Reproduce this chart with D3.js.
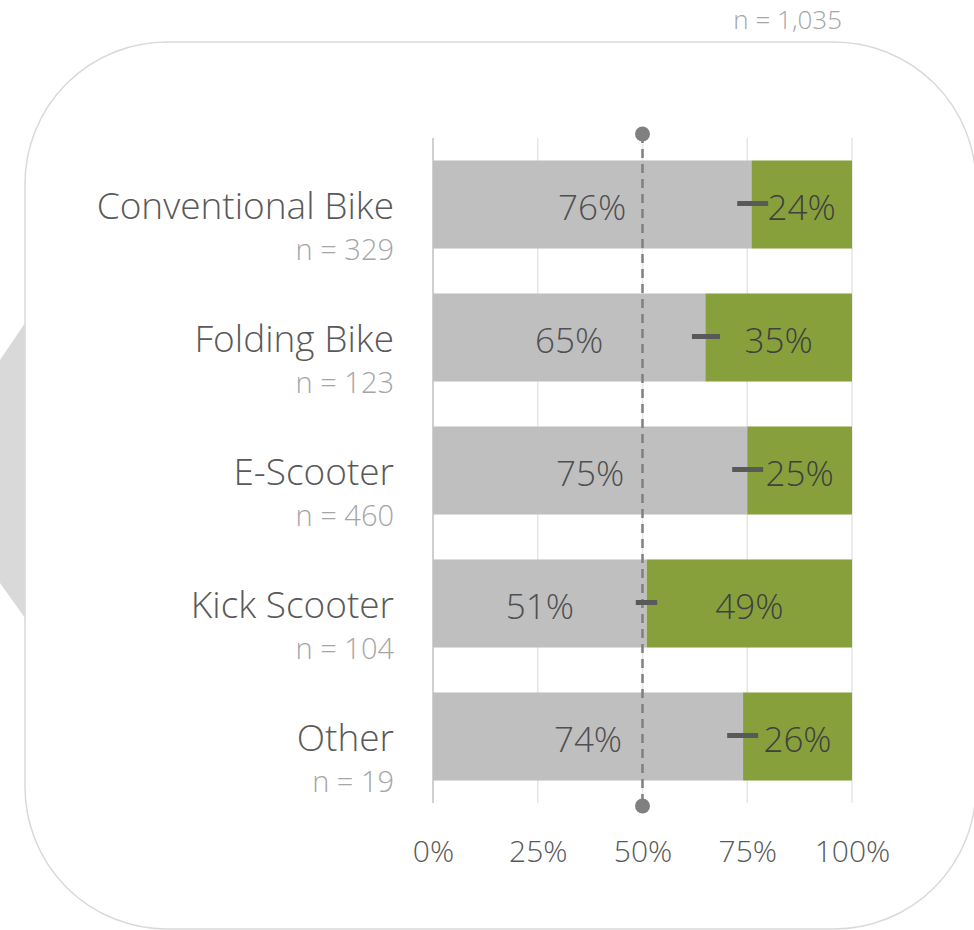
<!DOCTYPE html>
<html>
<head>
<meta charset="utf-8">
<script src="https://cdn.jsdelivr.net/npm/d3@7"></script>
<style>
  html, body { margin: 0; padding: 0; background: #ffffff; }
  svg { display: block; font-family: "Segoe UI", "Open Sans", "Noto Sans", sans-serif; }
</style>
</head>
<body>
<svg id="chart" width="974" height="930"></svg>
<script>
// Vehicle types and their sample sizes
const categories = ["Conventional Bike", "Folding Bike", "E-Scooter", "Kick Scooter", "Other"];
const sampleSizes = [329, 123, 460, 104, 19];
const totalN = "1,035";

// Share of respondents per answer (%)
const shareNo = [76, 65, 75, 51, 74];
const shareYes = [24, 35, 25, 49, 26];

// Interval around the split point (%)
const ciLow = [72.6, 61.8, 71.4, 48.4, 70.2];
const ciHigh = [80.0, 68.5, 78.8, 53.5, 77.6];

// Axis ticks
const tickValues = [0, 25, 50, 75, 100];
const referenceValue = 50;

const colNo = "#bfbfbf";
const colYes = "#87a03c";
const textDark = "#595959";
const textLight = "#a6a6a6";

const svg = d3.select("#chart");

// Background chevron, partly hidden behind the panel
svg.append("polygon")
  .attr("points", [[120, 323], [25, 323], [0, 360], [0, 583], [25, 618], [120, 618]].map(p => p.join(",")).join(" "))
  .attr("fill", "#d9d9d9");

// Rounded panel
svg.append("rect")
  .attr("x", 25).attr("y", 42)
  .attr("width", 951).attr("height", 887)
  .attr("rx", 142).attr("ry", 142)
  .attr("fill", "#ffffff")
  .attr("stroke", "#d9d9d9")
  .attr("stroke-width", 1.5);

// Overall sample size
svg.append("text")
  .attr("x", 842).attr("y", 29)
  .attr("text-anchor", "end")
  .attr("fill", textLight)
  .attr("font-size", 26)
  .attr("font-weight", 300)
  .text("n = " + totalN);

const x = d3.scaleLinear().domain([0, 100]).range([433, 852]);
const y = d3.scaleBand().domain(categories).range([138, 803])
  .paddingInner(0.338).paddingOuter(0.169);

const rows = categories.map((c, i) => ({
  cat: c, n: sampleSizes[i], no: shareNo[i], yes: shareYes[i], lo: ciLow[i], hi: ciHigh[i]
}));

// Vertical gridlines
svg.append("g")
  .selectAll("line")
  .data(tickValues.slice(1))
  .join("line")
  .attr("x1", d => x(d)).attr("x2", d => x(d))
  .attr("y1", 138).attr("y2", 803)
  .attr("stroke", "#e6e6e6")
  .attr("stroke-width", 1.5);

// Baseline
svg.append("line")
  .attr("x1", x(0)).attr("x2", x(0))
  .attr("y1", 138).attr("y2", 803)
  .attr("stroke", "#d0d0d0")
  .attr("stroke-width", 2);

// Tick labels via d3 axis
const axis = d3.axisBottom(x).tickValues(tickValues).tickFormat(d => d + "%").tickSize(0).tickPadding(0);
const axisG = svg.append("g").attr("transform", "translate(0,840)").call(axis)
  .attr("font-family", null).attr("font-size", null);
axisG.select(".domain").remove();
axisG.selectAll("text")
  .attr("fill", textDark)
  .attr("font-size", 30)
  .attr("font-weight", 300)
  .attr("dy", "0.72em");

// Stacked bars
const barG = svg.append("g");
barG.selectAll("rect.no")
  .data(rows).join("rect").attr("class", "no")
  .attr("x", x(0))
  .attr("y", d => y(d.cat))
  .attr("width", d => x(d.no) - x(0))
  .attr("height", y.bandwidth())
  .attr("fill", colNo);
barG.selectAll("rect.yes")
  .data(rows).join("rect").attr("class", "yes")
  .attr("x", d => x(d.no))
  .attr("y", d => y(d.cat))
  .attr("width", d => x(d.no + d.yes) - x(d.no))
  .attr("height", y.bandwidth())
  .attr("fill", colYes);

// Reference line at 50%
svg.append("line")
  .attr("x1", x(referenceValue)).attr("x2", x(referenceValue))
  .attr("y1", 134).attr("y2", 806)
  .attr("stroke", "#808080")
  .attr("stroke-width", 2.5)
  .attr("stroke-dasharray", "9,6");
svg.selectAll("circle.ref")
  .data([134, 806]).join("circle").attr("class", "ref")
  .attr("cx", x(referenceValue)).attr("cy", d => d)
  .attr("r", 7.5)
  .attr("fill", "#808080");

// Value labels
const cy = d => y(d.cat) + y.bandwidth() / 2;
barG.selectAll("text.no")
  .data(rows).join("text").attr("class", "no")
  .attr("x", d => (x(0) + x(d.no)) / 2)
  .attr("y", d => cy(d) + 15)
  .attr("text-anchor", "middle")
  .attr("fill", "#505050")
  .attr("font-size", 35)
  .attr("font-weight", 300)
  .text(d => d.no + "%");
barG.selectAll("text.yes")
  .data(rows).join("text").attr("class", "yes")
  .attr("x", d => (x(d.no) + x(d.no + d.yes)) / 2)
  .attr("y", d => cy(d) + 15)
  .attr("text-anchor", "middle")
  .attr("fill", "#404040")
  .attr("font-size", 35)
  .attr("font-weight", 300)
  .text(d => d.yes + "%");

// Interval markers
svg.append("g").selectAll("line")
  .data(rows).join("line")
  .attr("x1", d => x(d.lo)).attr("x2", d => x(d.hi))
  .attr("y1", d => cy(d) - 1).attr("y2", d => cy(d) - 1)
  .attr("stroke", "#595959")
  .attr("stroke-width", 5);

// Category labels and sample sizes
const labelG = svg.append("g");
labelG.selectAll("text.cat")
  .data(rows).join("text").attr("class", "cat")
  .attr("x", 394)
  .attr("y", d => cy(d) + 14)
  .attr("text-anchor", "end")
  .attr("fill", textDark)
  .attr("font-size", 37)
  .attr("font-weight", 300)
  .text(d => d.cat);
labelG.selectAll("text.n")
  .data(rows).join("text").attr("class", "n")
  .attr("x", 394)
  .attr("y", d => cy(d) + 55)
  .attr("text-anchor", "end")
  .attr("fill", textLight)
  .attr("font-size", 29)
  .attr("font-weight", 300)
  .text(d => "n = " + d.n);
</script>
</body>
</html>
